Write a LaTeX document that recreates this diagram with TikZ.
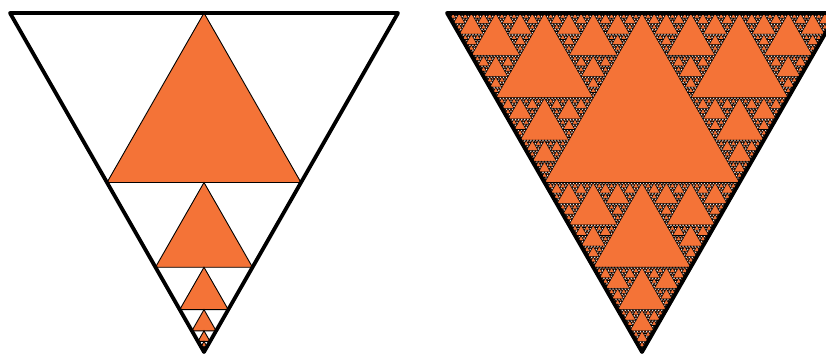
\documentclass[tikz,border=0pt]{standalone}
\definecolor{tri}{HTML}{F47337}
\tikzset{
  up/.style={fill=tri,draw=black,line width=0.9pt,line join=miter},
  upsmall/.style={fill=tri,draw=black,line width=0.6pt,line join=miter},
  frame/.style={draw=black,line width=3.8pt,line join=round,line cap=round}
}
% inverted triangle A (top-left), B (top-right), C (bottom)
\makeatletter
\newcommand\mySierp[7]{%
  \ifnum#1>0
  \begingroup
    \pgfmathsetmacro\mabx{(#2+#4)/2}\pgfmathsetmacro\maby{(#3+#5)/2}%
    \pgfmathsetmacro\macx{(#2+#6)/2}\pgfmathsetmacro\macy{(#3+#7)/2}%
    \pgfmathsetmacro\mbcx{(#4+#6)/2}\pgfmathsetmacro\mbcy{(#5+#7)/2}%
    \path[upsmall] (\mabx,\maby) -- (\macx,\macy) -- (\mbcx,\mbcy) -- cycle;
    \pgfmathtruncatemacro\nl{#1-1}%
    \edef\next{%
      \noexpand\mySierp{\nl}{#2}{#3}{\mabx}{\maby}{\macx}{\macy}%
      \noexpand\mySierp{\nl}{\mabx}{\maby}{#4}{#5}{\mbcx}{\mbcy}%
      \noexpand\mySierp{\nl}{\macx}{\macy}{\mbcx}{\mbcy}{#6}{#7}}%
    \next
  \endgroup
  \fi}
\newcommand\myChain[7]{%
  \ifnum#1>0
  \begingroup
    \pgfmathsetmacro\mabx{(#2+#4)/2}\pgfmathsetmacro\maby{(#3+#5)/2}%
    \pgfmathsetmacro\macx{(#2+#6)/2}\pgfmathsetmacro\macy{(#3+#7)/2}%
    \pgfmathsetmacro\mbcx{(#4+#6)/2}\pgfmathsetmacro\mbcy{(#5+#7)/2}%
    \path[up] (\mabx,\maby) -- (\macx,\macy) -- (\mbcx,\mbcy) -- cycle;
    \pgfmathtruncatemacro\nl{#1-1}%
    \edef\next{\noexpand\myChain{\nl}{\macx}{\macy}{\mbcx}{\mbcy}{#6}{#7}}%
    \next
  \endgroup
  \fi}
\makeatother
\begin{document}
\begin{tikzpicture}[x=1pt,y=-1pt]
  \useasboundingbox (0,0) rectangle (826,356);
  \clip (0,0) rectangle (826,356);
  % left figure
  \coordinate (LA) at (10,13);
  \coordinate (LB) at (398,13);
  \coordinate (LC) at (204,352);
  \myChain{8}{10}{13}{398}{13}{204}{352}
  \draw[frame] (LA) -- (LB) -- (LC) -- cycle;
  % right figure
  \coordinate (RA) at (447,13);
  \coordinate (RB) at (837,13);
  \coordinate (RC) at (642,352);
  \fill[white] (RA) -- (RB) -- (RC) -- cycle;
  \mySierp{7}{447}{13}{837}{13}{642}{352}
  \draw[frame] (RA) -- (RB) -- (RC) -- cycle;
\end{tikzpicture}
\end{document}
